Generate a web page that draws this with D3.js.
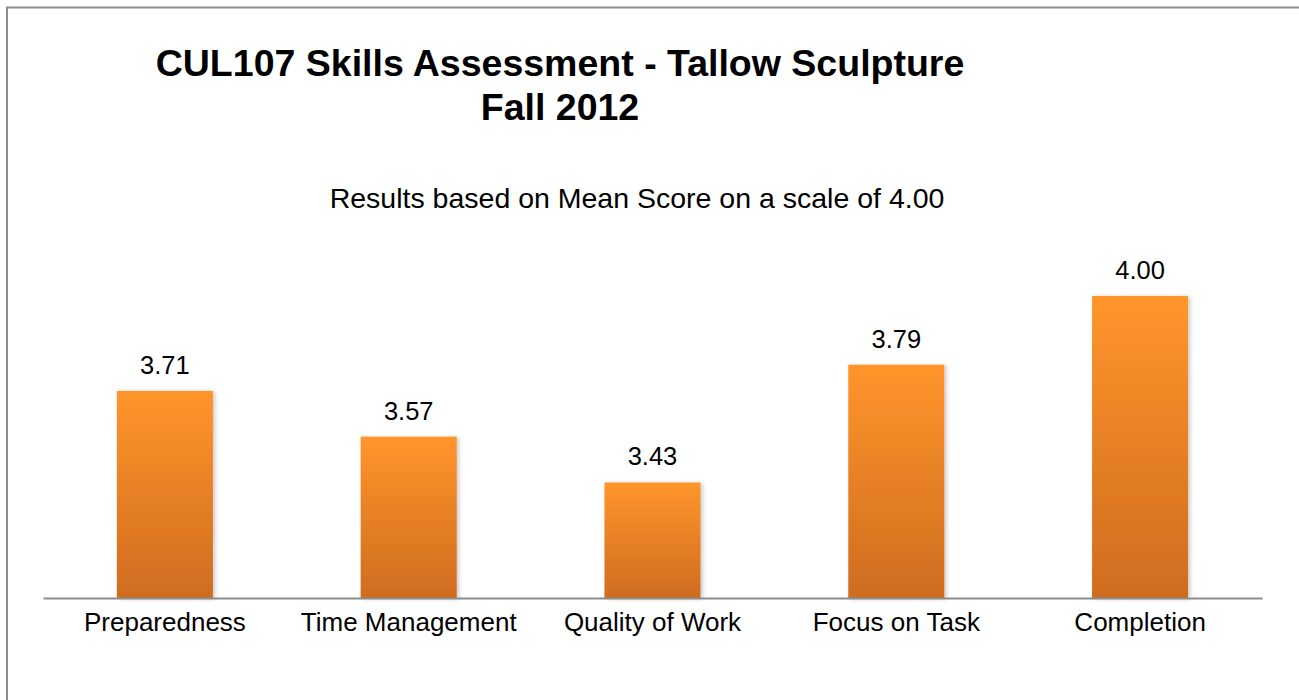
<!DOCTYPE html>
<html><head><meta charset="utf-8">
<script src="https://cdn.jsdelivr.net/npm/d3@7/dist/d3.min.js"></script>
<style>body{margin:0;background:#fff}svg{display:block}</style>
</head><body>
<script>
const categories = ["Preparedness","Time Management","Quality of Work","Focus on Task","Completion"];
const values = [3.71,3.57,3.43,3.79,4.00];
const valueLabels = ["3.71","3.57","3.43","3.79","4.00"];
const titleLines = ["CUL107 Skills Assessment - Tallow Sculpture","Fall 2012"];
const subtitle = "Results based on Mean Score on a scale of 4.00";

const W=1299,H=700;
const svg=d3.select("body").append("svg").attr("width",W).attr("height",H);
const font="'Liberation Sans', Arial, sans-serif";

// frame
svg.append("rect").attr("x",7).attr("y",7.5).attr("width",W+20).attr("height",H+20)
  .attr("fill","none").attr("stroke","#8c8c8c").attr("stroke-width",2);

const defs=svg.append("defs");
const g=defs.append("linearGradient").attr("id","barGrad").attr("x1",0).attr("y1",0).attr("x2",0).attr("y2",1);
g.append("stop").attr("offset","0%").attr("stop-color","#ff952c");
g.append("stop").attr("offset","100%").attr("stop-color","#cf6c1f");
const f=defs.append("filter").attr("id","sh").attr("x","-20%").attr("y","-20%").attr("width","140%").attr("height","140%");
f.append("feDropShadow").attr("dx",2).attr("dy",1).attr("stdDeviation",2).attr("flood-color","#000").attr("flood-opacity",0.22);

const x=d3.scaleBand().domain(categories).range([43,1262]).paddingInner(0.606).paddingOuter(0.303);
const y=d3.scaleLinear().domain([3.077,4.2]).range([598,598-1.123*327.25]);

svg.append("g").selectAll("rect").data(values).join("rect")
  .attr("x",(d,i)=>x(categories[i])).attr("width",x.bandwidth())
  .attr("y",d=>y(d)).attr("height",d=>y(3.077)-y(d))
  .attr("fill","url(#barGrad)").attr("filter","url(#sh)");

svg.append("g").selectAll("text").data(values).join("text")
  .attr("x",(d,i)=>x(categories[i])+x.bandwidth()/2).attr("y",d=>y(d)-17)
  .attr("text-anchor","middle").attr("font-family",font).attr("font-size",25.5).attr("fill","#000")
  .text((d,i)=>valueLabels[i]);

const ax=svg.append("g").attr("transform","translate(0,598)")
  .call(d3.axisBottom(x).tickSize(0).tickPadding(15));
ax.select(".domain").attr("stroke","#8c8c8c").attr("stroke-width",2);
ax.selectAll("text").attr("font-family",font).attr("font-size",26).attr("fill","#000");

svg.append("g").selectAll("text").data(titleLines).join("text")
  .attr("x",560).attr("y",(d,i)=>76+i*44).attr("text-anchor","middle")
  .attr("font-family",font).attr("font-weight","bold").attr("font-size",37.5).attr("fill","#000").text(d=>d);

svg.append("text").attr("x",637).attr("y",208).attr("text-anchor","middle")
  .attr("font-family",font).attr("font-size",28.5).attr("fill","#000").text(subtitle);
</script>
</body></html>
